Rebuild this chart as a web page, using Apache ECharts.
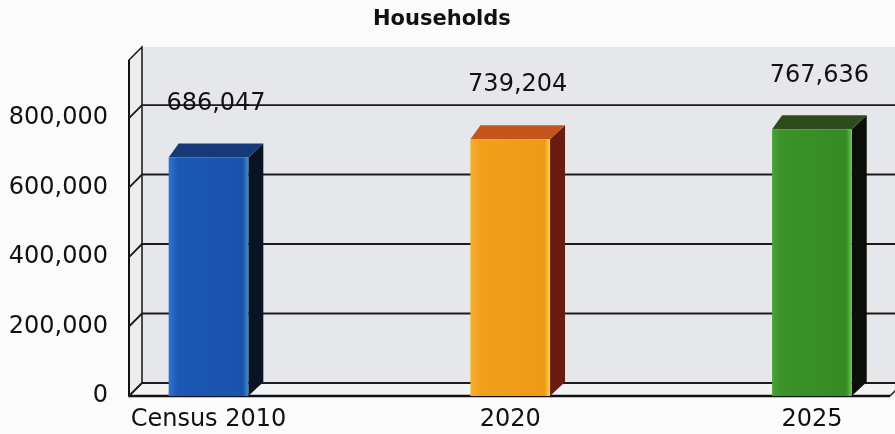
<!DOCTYPE html>
<html>
<head>
<meta charset="utf-8">
<title>Households</title>
<script src="https://cdn.jsdelivr.net/npm/echarts@6/dist/echarts.min.js"></script>
<style>
  html, body { margin: 0; padding: 0; background: #fbfbfb; }
  #chart { width: 895px; height: 434px; }
</style>
</head>
<body>
<div id="chart"></div>
<script>
// Household counts by period
const categories = ['Census 2010', '2020', '2025'];
const households = [686047, 739204, 767636];
const yTickValues = [0, 200000, 400000, 600000, 800000];

const FONT = 'DejaVu Sans, Verdana, sans-serif';
const TEXT = '#111111';

// Pseudo-3D depth of the walls and of the bar blocks
const WALL_DX = 13, WALL_DY = 13;
const BAR_DX = 15, BAR_DY = 14, BAR_TOP_LEFT_DX = 10;
const BAR_WIDTH = 0.264;            // in category units

// Horizontal value extent used to place the three columns
const X_MIN = -0.2635, X_MAX = 2.2588;

// Per-column face colours: front gradient stops, top, side
const palette = [
  { front: ['#2f73d2', '#1b57b4', '#1a53ad', '#3f8cc9'], top: '#163a78', side: '#0a1322' },
  { front: ['#f4b030', '#f0a01d', '#ee9a17', '#ffd445'], top: '#c4561d', side: '#6a1c12' },
  { front: ['#48a335', '#3a9228', '#368b24', '#6cc04f'], top: '#2e4b1d', side: '#0b0e09' }
];

const fmt = v => v.toLocaleString('en-US');

// Back wall, side wall and floor of the plot box
function renderFrame(params, api) {
  const cs = params.coordSys;
  const L = cs.x, R = cs.x + cs.width, T = cs.y, B = cs.y + cs.height;
  const line = { stroke: '#151515', lineWidth: 1.5 };
  return {
    type: 'group',
    children: [
      { type: 'rect', shape: { x: L + WALL_DX, y: T - WALL_DY, width: cs.width + 40, height: cs.height },
        style: { fill: '#e6e7eb' } },
      { type: 'polygon', shape: { points: [[L, T], [L + WALL_DX, T - WALL_DY], [L + WALL_DX, B - WALL_DY], [L, B]] },
        style: { fill: '#ecedef', stroke: '#151515', lineWidth: 1.5 } },
      { type: 'polygon', shape: { points: [[L, B], [R, B], [R + WALL_DX, B - WALL_DY], [L + WALL_DX, B - WALL_DY]] },
        style: { fill: '#f2f3f5' } },
      { type: 'line', shape: { x1: R, y1: B, x2: R + WALL_DX, y2: B - WALL_DY }, style: line },
      { type: 'line', shape: { x1: L, y1: B, x2: R, y2: B }, style: { stroke: '#111', lineWidth: 2.5 } },
      { type: 'line', shape: { x1: L, y1: T, x2: L, y2: B }, style: { stroke: '#111', lineWidth: 2 } }
    ]
  };
}

// One grid line per tick: diagonal on the side wall, then across the back wall
function renderGridLine(params, api) {
  const cs = params.coordSys;
  const y = api.coord([X_MIN, api.value(1)])[1];
  const L = cs.x;
  return {
    type: 'polyline',
    shape: { points: [[L, y], [L + WALL_DX, y - WALL_DY], [cs.x + cs.width + 40, y - WALL_DY]] },
    style: { stroke: '#1c1c1c', lineWidth: 1.8, fill: null }
  };
}

// Column drawn as a block with front, side and top faces plus its labels
function renderBar(params, api) {
  const i = api.value(0);
  const v = api.value(1);
  const top = api.coord([i, v]);
  const base = api.coord([i, 0]);
  const w = api.size([BAR_WIDTH, 0])[0];
  const x0 = top[0] - w / 2, x1 = top[0] + w / 2;
  const yt = top[1], yb = base[1];
  const c = palette[params.dataIndex % palette.length];
  return {
    type: 'group',
    children: [
      { type: 'polygon',
        shape: { points: [[x1, yt], [x1 + BAR_DX, yt - BAR_DY], [x1 + BAR_DX, yb - BAR_DY], [x1, yb]] },
        style: { fill: c.side } },
      { type: 'polygon',
        shape: { points: [[x0, yt], [x1, yt], [x1 + BAR_DX, yt - BAR_DY], [x0 + BAR_TOP_LEFT_DX, yt - BAR_DY]] },
        style: { fill: c.top } },
      { type: 'rect', shape: { x: x0, y: yt, width: w, height: yb - yt },
        style: { fill: new echarts.graphic.LinearGradient(0, 0, 1, 0, [
          { offset: 0, color: c.front[0] },
          { offset: 0.12, color: c.front[1] },
          { offset: 0.93, color: c.front[2] },
          { offset: 1, color: c.front[3] }
        ]) } },
      { type: 'text',
        style: { text: fmt(v), x: (x0 + x1 + BAR_DX) / 2, y: yt - 54, align: 'center', verticalAlign: 'middle',
                 font: '24px ' + FONT, fill: TEXT } },
      { type: 'text',
        style: { text: categories[i], x: top[0], y: yb + 24, align: 'center', verticalAlign: 'middle',
                 font: '24px ' + FONT, fill: TEXT } }
    ]
  };
}

const chart = echarts.init(document.getElementById('chart'), null, { renderer: 'canvas' });

chart.setOption({
  backgroundColor: '#fbfbfb',
  animation: false,
  title: {
    text: 'Households',
    left: 373, top: 9, padding: 0,
    textStyle: { fontFamily: FONT, fontSize: 21, fontWeight: 'bold', color: TEXT }
  },
  grid: { left: 129, right: 5, top: 60, bottom: 38, outerBoundsMode: 'none' },
  xAxis: { type: 'value', min: X_MIN, max: X_MAX, show: false },
  yAxis: {
    type: 'value', min: 0, max: 967000,
    axisLine: { show: true, lineStyle: { color: '#111', width: 2 } },
    axisTick: { show: true, length: 11, customValues: yTickValues, lineStyle: { color: '#111', width: 2 } },
    axisLabel: { customValues: yTickValues, margin: 21, fontFamily: FONT, fontSize: 24, color: TEXT,
                 formatter: fmt, padding: [5, 0, 0, 0] },
    splitLine: { show: false }
  },
  series: [
    { type: 'custom', name: 'frame', z: 1, silent: true, clip: false,
      renderItem: renderFrame, data: [[0, 0]] },
    { type: 'custom', name: 'grid lines', z: 2, silent: true, clip: false,
      renderItem: renderGridLine, data: yTickValues.map(v => [0, v]) },
    { type: 'custom', name: 'Households', z: 3, clip: false,
      renderItem: renderBar, data: households.map((v, i) => [i, v]) }
  ]
});
</script>
</body>
</html>
